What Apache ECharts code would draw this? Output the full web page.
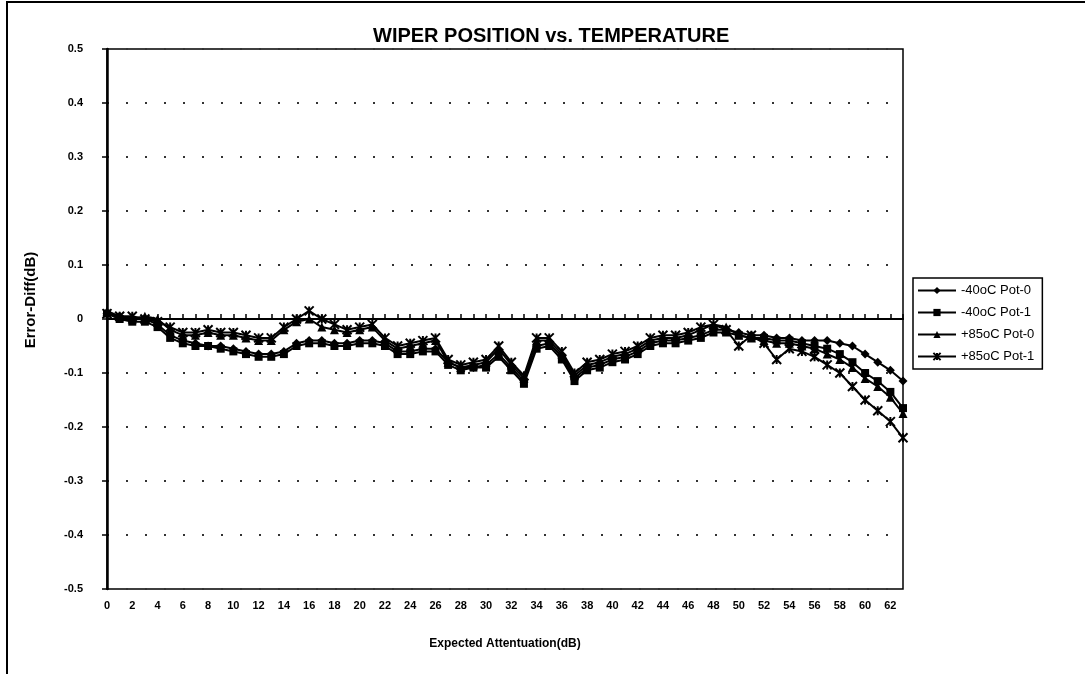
<!DOCTYPE html>
<html>
<head>
<meta charset="utf-8">
<script src="https://cdn.jsdelivr.net/npm/echarts@6/dist/echarts.min.js"></script>
<style>html,body{margin:0;padding:0;background:#fff;}#c{width:1085px;height:674px;}</style>
</head>
<body>
<div id="c"></div>
<script>
const categories = Array.from({length: 64}, (_, i) => String(i));
const seriesNames = ['-40oC Pot-0', '-40oC Pot-1', '+85oC Pot-0', '+85oC Pot-1'];
const m40pot0 = [0.01, 0.005, 0.0, 0.0, -0.01, -0.03, -0.04, -0.045, -0.05, -0.05,
  -0.055, -0.06, -0.065, -0.065, -0.06, -0.045, -0.04, -0.04, -0.045, -0.045,
  -0.04, -0.04, -0.045, -0.06, -0.06, -0.055, -0.055, -0.08, -0.09, -0.09,
  -0.085, -0.065, -0.09, -0.115, -0.05, -0.045, -0.07, -0.11, -0.09, -0.085,
  -0.075, -0.07, -0.06, -0.045, -0.04, -0.04, -0.035, -0.03, -0.02, -0.02,
  -0.025, -0.03, -0.03, -0.035, -0.035, -0.04, -0.04, -0.04, -0.045, -0.05,
  -0.065, -0.08, -0.095, -0.115];
const m40pot1 = [0.01, 0.0, -0.005, -0.005, -0.015, -0.035, -0.045, -0.05, -0.05, -0.055,
  -0.06, -0.065, -0.07, -0.07, -0.065, -0.05, -0.045, -0.045, -0.05, -0.05,
  -0.045, -0.045, -0.05, -0.065, -0.065, -0.06, -0.06, -0.085, -0.095, -0.09,
  -0.09, -0.07, -0.095, -0.12, -0.055, -0.05, -0.075, -0.115, -0.095, -0.09,
  -0.08, -0.075, -0.065, -0.05, -0.045, -0.045, -0.04, -0.035, -0.025, -0.025,
  -0.03, -0.035, -0.035, -0.04, -0.04, -0.045, -0.05, -0.055, -0.065, -0.08,
  -0.1, -0.115, -0.135, -0.165];
const p85pot0 = [0.015, 0.005, 0.0, 0.005, 0.0, -0.02, -0.03, -0.03, -0.025, -0.03,
  -0.03, -0.035, -0.04, -0.04, -0.02, -0.005, 0.0, -0.015, -0.02, -0.025,
  -0.02, -0.015, -0.04, -0.055, -0.05, -0.045, -0.04, -0.08, -0.09, -0.085,
  -0.08, -0.055, -0.085, -0.11, -0.04, -0.04, -0.065, -0.105, -0.085, -0.08,
  -0.07, -0.065, -0.055, -0.04, -0.035, -0.035, -0.03, -0.02, -0.01, -0.015,
  -0.03, -0.035, -0.04, -0.045, -0.045, -0.05, -0.055, -0.065, -0.075, -0.09,
  -0.11, -0.125, -0.145, -0.175];
const p85pot1 = [0.01, 0.005, 0.005, 0.0, -0.005, -0.015, -0.025, -0.025, -0.02, -0.025,
  -0.025, -0.03, -0.035, -0.035, -0.015, 0.0, 0.015, 0.0, -0.01, -0.02,
  -0.015, -0.01, -0.035, -0.05, -0.045, -0.04, -0.035, -0.075, -0.085, -0.08,
  -0.075, -0.05, -0.08, -0.105, -0.035, -0.035, -0.06, -0.1, -0.08, -0.075,
  -0.065, -0.06, -0.05, -0.035, -0.03, -0.03, -0.025, -0.015, -0.01, -0.02,
  -0.05, -0.03, -0.045, -0.075, -0.055, -0.06, -0.07, -0.085, -0.1, -0.125,
  -0.15, -0.17, -0.19, -0.22];
const seriesData = [m40pot0, m40pot1, p85pot0, p85pot1];
const symbols = ['diamond', 'rect', 'triangle', 'path://M0,0L10,10M10,0L0,10M5,0L5,10'];
const symbolSizes = [9, 8, 9, 9];

const FONT = 'Liberation Sans, Arial, sans-serif';
const tickAxisBase = {
  type: 'category', data: categories, boundaryGap: false,
  axisLabel: {show: false}, splitLine: {show: false}
};

const chart = echarts.init(document.getElementById('c'), null, {renderer: 'canvas'});
chart.setOption({
  backgroundColor: '#fff',
  animation: false,
  title: {
    text: 'WIPER POSITION vs. TEMPERATURE',
    left: 368, top: 21,
    textStyle: {fontFamily: FONT, fontWeight: 'bold', fontSize: 20, color: '#000'}
  },
  graphic: [{
    type: 'rect', shape: {x: 7, y: 2, width: 1200, height: 800},
    style: {fill: 'none', stroke: '#000', lineWidth: 2}, silent: true
  }],
  legend: {
    orient: 'vertical', left: 913, top: 278,
    data: seriesNames,
    itemWidth: 38, itemHeight: 9, itemGap: 9,
    padding: [6, 8, 6, 4],
    borderColor: '#000', borderWidth: 1.5,
    textStyle: {fontFamily: FONT, fontSize: 13, color: '#000'}
  },
  grid: {
    left: 107, right: 182, top: 49, bottom: 85,
    containLabel: false, outerBoundsMode: 'none',
    show: true, borderColor: '#000', borderWidth: 1.5, backgroundColor: 'transparent'
  },
  xAxis: [{
    type: 'category', data: categories, boundaryGap: false, position: 'bottom',
    axisLine: {show: false, onZero: false},
    axisTick: {show: false},
    axisLabel: {interval: 1, margin: 11, fontFamily: FONT, fontWeight: 'bold', fontSize: 11, color: '#000'},
    name: 'Expected Attentuation(dB)', nameLocation: 'middle', nameGap: 49,
    nameTextStyle: {fontFamily: FONT, fontWeight: 'bold', fontSize: 12, color: '#000'},
    splitLine: {show: false}
  }, Object.assign({}, tickAxisBase, {
    position: 'top',
    axisLine: {onZero: true, onZeroAxisIndex: 0, lineStyle: {color: '#000', width: 2}},
    axisTick: {show: true, inside: false, length: 5, interval: 0, lineStyle: {color: '#000', width: 1.5}}
  }), Object.assign({}, tickAxisBase, {
    position: 'bottom',
    axisLine: {onZero: true, onZeroAxisIndex: 1, lineStyle: {color: '#000', width: 2}},
    axisTick: {show: true, inside: true, length: 5, interval: 0, lineStyle: {color: '#000', width: 1.5}}
  })],
  yAxis: [{
    type: 'value', min: -0.5, max: 0.5, interval: 0.1,
    axisLine: {show: true, lineStyle: {color: '#000', width: 2.5}},
    axisTick: {show: true, length: 5, lineStyle: {color: '#000', width: 1.5}},
    axisLabel: {
      margin: 24, fontFamily: FONT, fontWeight: 'bold', fontSize: 11, color: '#000',
      formatter: v => { const r = Math.round(v * 10) / 10; return r === 0 ? '0' : String(r); }
    },
    name: 'Error-Diff(dB)', nameLocation: 'middle', nameGap: 69, nameRotate: 90,
    nameTextStyle: {fontFamily: FONT, fontWeight: 'bold', fontSize: 15, color: '#000', padding: [0, 0, 0, 38]},
    splitLine: {show: true, lineStyle: {color: '#333', width: 2, type: [2, 17]}}
  }, {
    type: 'value', min: -0.5, max: 0.5, interval: 0.1, position: 'right',
    axisLine: {show: false}, axisTick: {show: false}, axisLabel: {show: false},
    splitLine: {show: false}
  }],
  series: seriesNames.map((n, i) => ({
    name: n, type: 'line', data: seriesData[i],
    symbol: symbols[i], symbolSize: symbolSizes[i], showAllSymbol: true,
    lineStyle: {color: '#000', width: 2},
    itemStyle: {color: '#000', borderColor: '#000', borderWidth: i === 3 ? 2 : 0}
  }))
});
</script>
</body>
</html>
